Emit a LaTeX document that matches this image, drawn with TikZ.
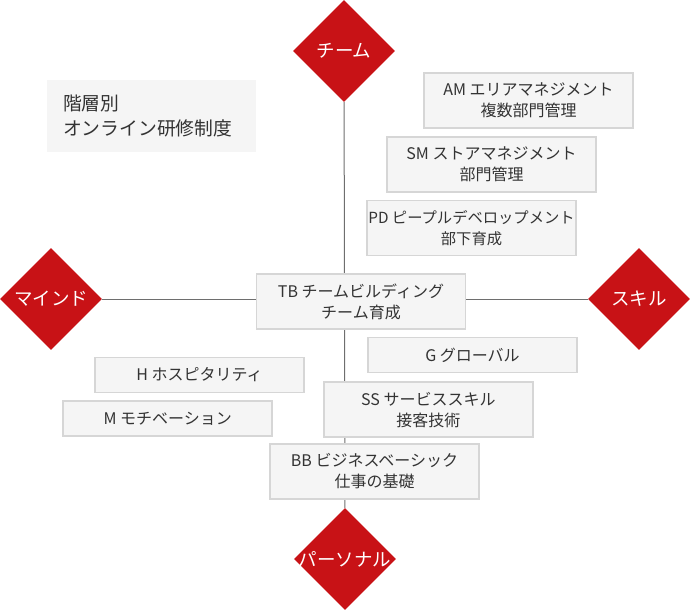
\documentclass[tikz,border=0pt]{standalone}
\usepackage{fontspec}
\setmainfont{Noto Sans CJK JP}
\usetikzlibrary{shapes.geometric}
\definecolor{polered}{RGB}{200,18,22}
\definecolor{boxfill}{RGB}{245,245,245}
\definecolor{boxline}{RGB}{214,214,214}
\definecolor{ink}{RGB}{51,51,51}
\definecolor{axis}{RGB}{110,110,110}
\begin{document}
\begin{tikzpicture}[x=1pt,y=-1pt,
    pole/.style={diamond,fill=polered,minimum size=102pt,inner sep=0pt,
      label={[text=white,font=\fontsize{18.5}{20}\selectfont]center:#1}},
    course/.style={rectangle,fill=boxfill,draw=boxline,line width=1.5pt,
      inner xsep=0pt,minimum width=209pt,text=ink,align=center,
      font=\fontsize{16}{21}\selectfont},
    two/.style={minimum height=55pt},
    one/.style={minimum height=35pt}]
  \useasboundingbox (0,0) rectangle (690,611);

  % the four poles
  \node[pole=チーム] (team) at (344,51) {};
  \node[pole=パーソナル] (personal) at (345,559) {};
  \node[pole=マインド] (mind) at (51,299) {};
  \node[pole=スキル] (skill) at (639,299) {};

  \draw[axis,line width=1pt] (team) -- (personal);
  \draw[axis,line width=1pt] (mind) -- (skill);

  \node[fill=boxfill,minimum width=209pt,minimum height=72pt,inner xsep=16pt,
    text width=177pt,align=left,text=ink,font=\fontsize{18.8}{25}\selectfont]
    (title) at (151.5,116) {階層別\\オンライン研修制度};

  \node[course,two] (am) at (528.5,100.5) {AM エリアマネジメント\\複数部門管理};
  \node[course,two] (sm) at (491.5,164.5) {SM ストアマネジメント\\部門管理};
  \node[course,two,font=\fontsize{15.3}{21}\selectfont] (pd) at (471.5,228)
    {PD ピープルデベロップメント\\部下育成};
  \node[course,two] (tb) at (361,301.5) {TB チームビルディング\\チーム育成};
  \node[course,one] (g) at (472.5,355) {G グローバル};
  \node[course,one] (h) at (199.5,375) {H ホスピタリティ};
  \node[course,one] (m) at (167.7,418.7) {M モチベーション};
  \node[course,two] (ss) at (428.3,409.7) {SS サービススキル\\接客技術};
  \node[course,two] (bb) at (374.5,471.5) {BB ビジネスベーシック\\仕事の基礎};
\end{tikzpicture}
\end{document}
